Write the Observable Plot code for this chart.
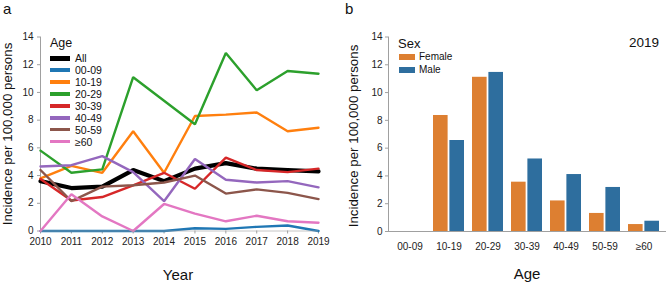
<!DOCTYPE html>
<html>
<head>
<meta charset="utf-8">
<script src="https://cdn.jsdelivr.net/npm/d3@7"></script>
<script src="https://cdn.jsdelivr.net/npm/@observablehq/plot@0.6"></script>
<style>
  body { margin: 0; background: #fff; font-family: "Liberation Sans", Arial, sans-serif; }
  #wrap { position: relative; width: 669px; height: 283px; overflow: hidden; }
  .abs { position: absolute; white-space: nowrap; color: #111; }
  .panel { position: absolute; top: 0; }
</style>
</head>
<body>
<div id="wrap"></div>
<script>
// ---------- Data: panel a ----------
const years = [2010, 2011, 2012, 2013, 2014, 2015, 2016, 2017, 2018, 2019];
const ageGroups = ["All", "00-09", "10-19", "20-29", "30-39", "40-49", "50-59", "≥60"];
const ageColors = ["#000000", "#1f77b4", "#ff7f0e", "#2ca02c", "#d62728", "#9467bd", "#8c564b", "#e377c2"];
const allAges = [3.6, 3.1, 3.2, 4.4, 3.6, 4.5, 4.9, 4.5, 4.4, 4.3];
const age00_09 = [0, 0, 0, 0, 0, 0.2, 0.15, 0.3, 0.4, 0];
const age10_19 = [3.8, 4.7, 4.2, 7.2, 4.2, 8.3, 8.4, 8.55, 7.2, 7.45];
const age20_29 = [5.8, 4.2, 4.45, 11.1, 9.4, 7.7, 12.85, 10.15, 11.55, 11.35];
const age30_39 = [3.75, 2.2, 2.45, 3.3, 4.2, 3.05, 5.3, 4.4, 4.25, 4.5];
const age40_49 = [4.65, 4.75, 5.4, 4.25, 2.15, 5.2, 3.7, 3.5, 3.6, 3.15];
const age50_59 = [4.4, 2.15, 3.2, 3.3, 3.5, 4.0, 2.7, 3.0, 2.75, 2.3];
const age60plus = [0, 2.65, 1.05, 0, 1.95, 1.25, 0.7, 1.1, 0.7, 0.6];
const seriesA = [allAges, age00_09, age10_19, age20_29, age30_39, age40_49, age50_59, age60plus];
const yTicks = [0, 2, 4, 6, 8, 10, 12, 14];

// ---------- Data: panel b ----------
const ageCats = ["00-09", "10-19", "20-29", "30-39", "40-49", "50-59", "≥60"];
const sexes = ["Female", "Male"];
const sexColors = ["#dd7f31", "#2e6e9e"];
const female2019 = [0, 8.35, 11.1, 3.55, 2.2, 1.3, 0.5];
const male2019 = [0, 6.55, 11.45, 5.22, 4.1, 3.17, 0.74];

// ---------- Build tables ----------
const rowsA = [];
ageGroups.forEach((g, gi) => years.forEach((yr, i) => rowsA.push({group: g, year: yr, value: seriesA[gi][i]})));
const rowsB = [];
ageCats.forEach((a, i) => {
  rowsB.push({age: a, sex: "Female", value: female2019[i]});
  rowsB.push({age: a, sex: "Male", value: male2019[i]});
});

const wrap = document.getElementById("wrap");
const font = "Liberation Sans, Arial, sans-serif";
const axisGray = "#a0a0a0";

// ---------- Panel a ----------
const aW = 340, aML = 40, aMR = 22;
const plotA = Plot.plot({
  width: aW, height: 283,
  marginLeft: aML, marginRight: aMR, marginTop: 36.5, marginBottom: 52.5,
  style: {fontFamily: font, fontSize: "10px", color: "#222", background: "transparent", overflow: "visible"},
  x: {domain: [2010, 2019]},
  y: {domain: [0, 14]},
  color: {domain: ageGroups, range: ageColors},
  marks: [
    Plot.axisY({ticks: yTicks, tickSize: 3, tickPadding: 4, stroke: axisGray, label: null}),
    Plot.axisX({ticks: years, tickFormat: d => String(d), tickSize: 3, tickPadding: 4, stroke: axisGray, label: null}),
    Plot.frame({anchor: "left", stroke: axisGray}),
    Plot.line(rowsA.filter(d => d.group === "All"), {x: "year", y: "value", z: "group", stroke: "group", strokeWidth: 4.2, strokeLinejoin: "miter"}),
    Plot.line(rowsA.filter(d => d.group !== "All"), {x: "year", y: "value", z: "group", stroke: "group", strokeWidth: 2.4, strokeLinejoin: "miter"}),
    Plot.ruleY([0], {stroke: axisGray, strokeOpacity: 0.6})
  ]
});
plotA.classList.add("panel");
plotA.style.left = "0px";
wrap.appendChild(plotA);

// ---------- Panel b ----------
const bW = 329, bML = 48, bMR = 3;
const nCats = ageCats.length;
const step = (bW - bML - bMR) / nCats;
const halfBand = step * 0.8 / 2;
const plotB = Plot.plot({
  width: bW, height: 283,
  marginLeft: bML, marginRight: bMR, marginTop: 36.5, marginBottom: 52,
  style: {fontFamily: font, fontSize: "10px", color: "#222", background: "transparent", overflow: "visible"},
  x: {domain: ageCats, paddingInner: 0.2, paddingOuter: 0.1},
  y: {domain: [0, 14]},
  color: {domain: sexes, range: sexColors},
  marks: [
    Plot.axisY({ticks: yTicks, tickSize: 3, tickPadding: 3, stroke: axisGray, label: null}),
    Plot.axisX({tickSize: 0, tickPadding: 11, label: null}),
    Plot.frame({anchor: "left", stroke: axisGray}),
    Plot.barY(rowsB.filter(d => d.sex === "Female"), {x: "age", y: "value", fill: "sex", insetRight: halfBand + 0.5}),
    Plot.barY(rowsB.filter(d => d.sex === "Male"), {x: "age", y: "value", fill: "sex", insetLeft: halfBand + 0.5}),
    Plot.ruleY([0], {stroke: axisGray})
  ]
});
plotB.classList.add("panel");
plotB.style.left = "340px";
wrap.appendChild(plotB);

// ---------- Text overlays ----------
function addText(txt, left, top, size, extra = {}) {
  const d = document.createElement("div");
  d.className = "abs";
  d.textContent = txt;
  d.style.left = left + "px";
  d.style.top = top + "px";
  d.style.fontSize = size + "px";
  d.style.lineHeight = "1";
  Object.assign(d.style, extra);
  wrap.appendChild(d);
  return d;
}
addText("a", 3, 1, 15);
addText("b", 345, 1, 15);

// axis titles
addText("Year", 178, 274, 15, {transform: "translate(-50%,-50%)"});
addText("Age", 527, 273, 15, {transform: "translate(-50%,-50%)"});
addText("Incidence per 100,000 persons", 8, 134, 13.3, {transform: "translate(-50%,-50%) rotate(-90deg)"});
addText("Incidence per 100,000 persons", 354, 136, 13.3, {transform: "translate(-50%,-50%) rotate(-90deg)"});

// panel a legend
addText("Age", 50, 43, 12.5, {transform: "translateY(-50%)"});
ageGroups.forEach((g, i) => {
  const cy = 58.3 + i * 11.9;
  const sw = document.createElement("div");
  sw.className = "abs";
  const h = g === "All" ? 5 : 3.5;
  Object.assign(sw.style, {left: "49.5px", top: (cy - h / 2) + "px", width: "20px", height: h + "px", background: ageColors[i]});
  wrap.appendChild(sw);
  addText(g, 75, cy, 10.5, {transform: "translateY(-50%)"});
});

// panel b legend
addText("Sex", 398, 43.3, 13, {transform: "translateY(-50%)"});
addText("2019", 644, 43, 13.5, {transform: "translate(-50%,-50%)"});
sexes.forEach((s, i) => {
  const cy = 57.3 + i * 12.7;
  const sw = document.createElement("div");
  sw.className = "abs";
  Object.assign(sw.style, {left: "398.5px", top: (cy - 3) + "px", width: "16px", height: "6px", background: sexColors[i]});
  wrap.appendChild(sw);
  addText(s, 419, cy, 10, {transform: "translateY(-50%)"});
});
</script>
</body>
</html>
